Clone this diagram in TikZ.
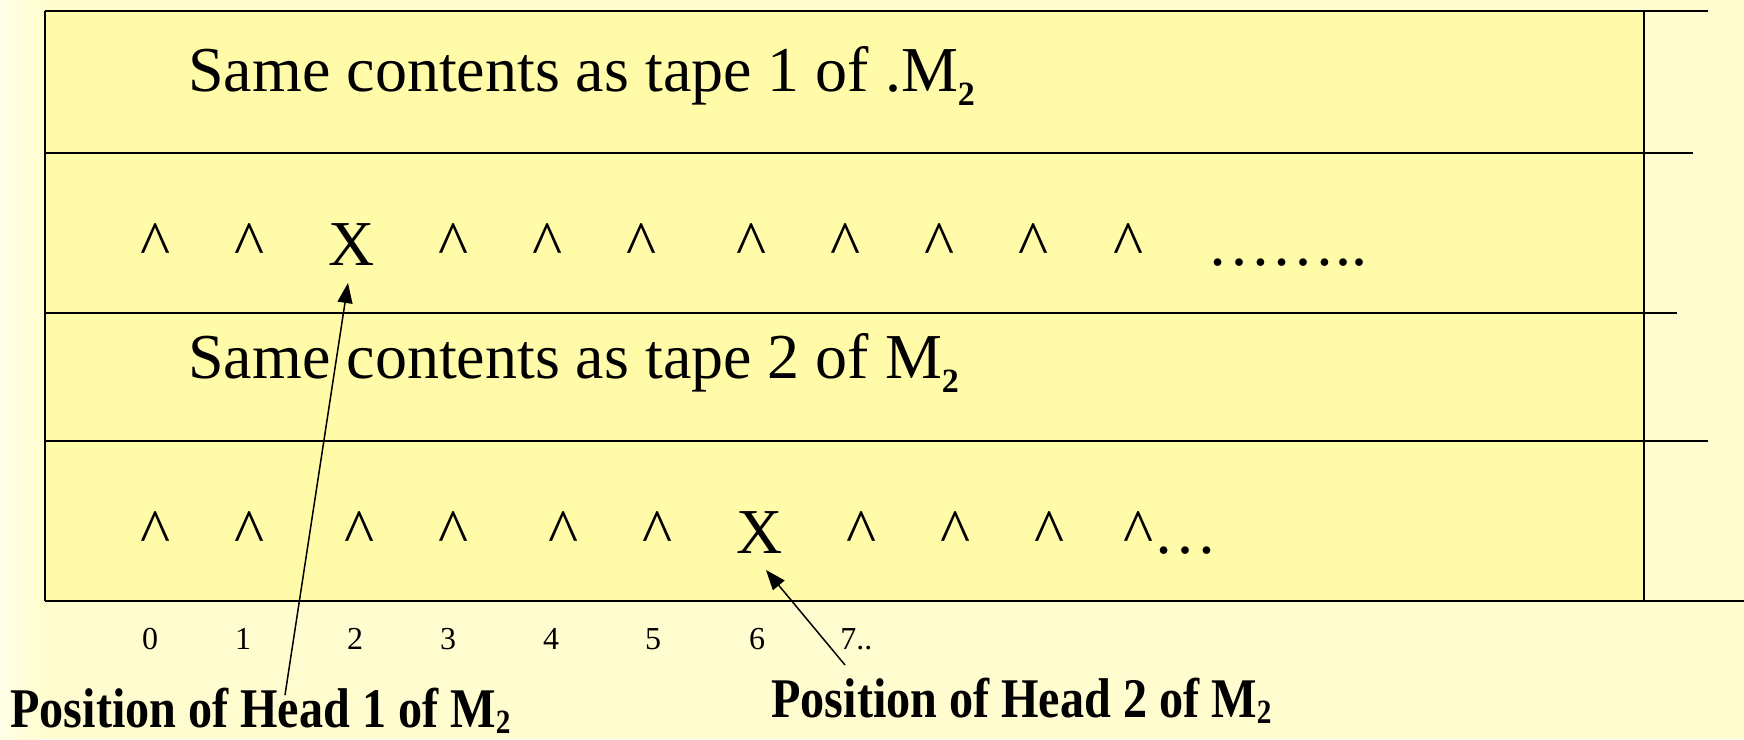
\documentclass[tikz,border=0pt]{standalone}
\usepackage{fontspec}
\setmainfont{Liberation Serif}
\usepackage{graphicx}
\usetikzlibrary{arrows.meta}
\definecolor{pagebg}{RGB}{255,253,208}
\definecolor{pagelight}{RGB}{255,255,232}
\definecolor{tapefill}{RGB}{255,251,168}
\newcommand\subtwo[2]{\raisebox{-#1}{\fontsize{#2}{#2}\selectfont\bfseries 2}}
\newcommand\cc{\textasciicircum}
\begin{document}
\begin{tikzpicture}[x=0.5pt,y=-0.5pt,
  tline/.style={line width=1pt, draw=black},
  bigtxt/.style={inner sep=0, anchor=base west, font=\fontsize{32pt}{36pt}\selectfont},
  cell/.style={inner sep=0, anchor=base, font=\fontsize{32pt}{36pt}\selectfont},
  num/.style={inner sep=0, anchor=base, font=\fontsize{16pt}{18pt}\selectfont},
  numw/.style={inner sep=0, anchor=base west, font=\fontsize{16pt}{18pt}\selectfont},
  lbl/.style={inner sep=0, anchor=base west, font=\fontsize{28pt}{30pt}\selectfont\bfseries},
  pointer/.style={line width=0.75pt, -{Triangle[length=10pt,width=7.5pt]}}
]
% page
\fill[pagebg] (0,0) rectangle (1744,739);
\shade[left color=pagelight, right color=pagebg] (0,0) rectangle (40,739);
\useasboundingbox (0,0) rectangle (1744,739);
% tape
\fill[tapefill] (44.5,11) rectangle (1644,600.5);
\draw[tline] (44.5,11) -- (1708,11);
\draw[tline] (44.5,152.5) -- (1693,152.5);
\draw[tline] (44.5,312.5) -- (1677,312.5);
\draw[tline] (44.5,440.5) -- (1708,440.5);
\draw[tline] (44.5,600.5) -- (1744,600.5);
\draw[tline] (44.5,11) -- (44.5,600.5);
\draw[tline] (1644,11) -- (1644,600.5);
% row texts
\node[bigtxt] (t1) at (188,91) {Same contents as tape 1 of .M\subtwo{7pt}{17pt}};
\node[bigtxt] (t2) at (188,378) {Same contents as tape 2 of M\subtwo{7pt}{17pt}};
% row 2
\foreach \x [count=\i] in {155.7,250,454,548,642,752,846,940,1034,1128}
  \node[cell] (r2c\i) at (\x,265) {\cc};
\node[cell] (x1) at (351.7,265) {X};
\node[bigtxt] (d2) at (1207,265) {……..};
% row 4
\foreach \x [count=\i] in {155.7,250,360,454,564,657.7,862,956,1050}
  \node[cell] (r4c\i) at (\x,553) {\cc};
\node[cell] (x2) at (760,553) {X};
\node[bigtxt] (d4) at (1123,553) {\cc…};
% numbers
\foreach \x [count=\i from 0] in {150,243,355,448,551,653,757}
  \node[num] (n\i) at (\x,649) {\i};
\node[numw] (n7) at (840,649) {7..};
% labels
\node[lbl] (h1) at (10,727) {\scalebox{0.86}[1]{Position of Head 1 of M\subtwo{3pt}{17pt}}};
\node[lbl] (h2) at (771,717) {\scalebox{0.86}[1]{Position of Head 2 of M\subtwo{3pt}{17pt}}};
% pointers
\coordinate (a1s) at (285,695);
\coordinate (a1e) at (348,283);
\coordinate (a2s) at (845,665);
\coordinate (a2e) at (766,570);
\draw[pointer] (a1s) -- (a1e);
\draw[pointer] (a2s) -- (a2e);
\end{tikzpicture}
\end{document}
